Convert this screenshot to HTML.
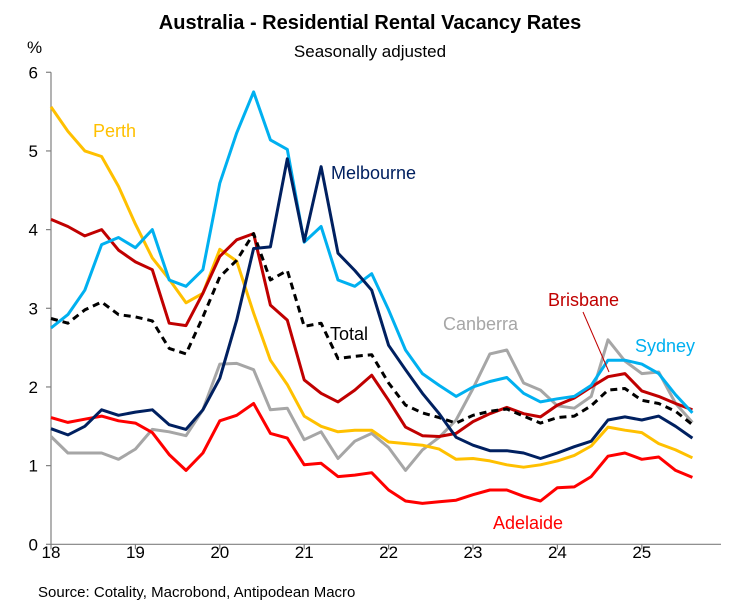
<!DOCTYPE html>
<html><head><meta charset="utf-8"><style>
html,body{margin:0;padding:0;background:#fff;}
svg{display:block;font-family:"Liberation Sans",Arial,sans-serif;}
</style></head><body>
<svg id="chart" width="736" height="611" viewBox="0 0 736 611">
<text x="370" y="29" text-anchor="middle" font-size="20" font-weight="bold" fill="#000">Australia - Residential Rental Vacancy Rates</text>
<text x="370" y="57" text-anchor="middle" font-size="17" fill="#000">Seasonally adjusted</text>
<text x="27" y="53" font-size="17" fill="#000">%</text>
<text x="38" y="597" font-size="15" fill="#000">Source: Cotality, Macrobond, Antipodean Macro</text>
<g id="axes"></g>
<g id="series"></g>
<g id="labels"></g>
</svg>
<script>
const startYear = 2018;
const stepYears = 0.2;
const xTickLabels = ["18","19","20","21","22","23","24","25"];
const yTicks = [0,1,2,3,4,5,6];
const sydney = [2.75,2.92,3.23,3.81,3.90,3.77,4.00,3.36,3.28,3.49,4.59,5.23,5.75,5.14,5.02,3.84,4.04,3.36,3.28,3.44,2.98,2.47,2.17,2.02,1.88,2.00,2.07,2.12,1.92,1.81,1.85,1.88,2.02,2.34,2.34,2.29,2.17,1.90,1.67];
const melbourne = [1.47,1.39,1.50,1.71,1.64,1.68,1.71,1.52,1.46,1.71,2.11,2.85,3.76,3.78,4.9,3.85,4.8,3.70,3.48,3.23,2.53,2.22,1.92,1.66,1.36,1.26,1.19,1.19,1.16,1.09,1.16,1.24,1.31,1.58,1.62,1.58,1.63,1.50,1.35];
const perth = [5.56,5.25,5.00,4.93,4.55,4.07,3.64,3.37,3.07,3.19,3.75,3.60,2.94,2.34,2.03,1.63,1.50,1.43,1.45,1.45,1.30,1.28,1.26,1.21,1.08,1.09,1.06,1.01,0.98,1.01,1.06,1.13,1.25,1.49,1.45,1.42,1.28,1.20,1.10];
const brisbane = [4.13,4.04,3.92,4.00,3.74,3.59,3.49,2.81,2.78,3.19,3.66,3.87,3.95,3.04,2.85,2.09,1.92,1.81,1.96,2.15,1.83,1.49,1.38,1.37,1.41,1.56,1.66,1.74,1.66,1.62,1.77,1.86,2.00,2.13,2.17,1.95,1.88,1.79,1.71];
const adelaide = [1.61,1.55,1.59,1.63,1.57,1.54,1.42,1.14,0.94,1.16,1.57,1.64,1.79,1.41,1.35,1.01,1.03,0.86,0.88,0.91,0.69,0.55,0.52,0.54,0.56,0.63,0.69,0.69,0.61,0.55,0.72,0.73,0.86,1.12,1.16,1.08,1.11,0.94,0.85];
const canberra = [1.37,1.16,1.16,1.16,1.08,1.21,1.46,1.43,1.38,1.71,2.29,2.3,2.22,1.71,1.73,1.33,1.43,1.09,1.31,1.41,1.23,0.94,1.20,1.36,1.58,1.98,2.42,2.47,2.05,1.96,1.76,1.73,1.88,2.60,2.33,2.17,2.19,1.79,1.55];
const total = [2.87,2.81,2.98,3.08,2.92,2.89,2.84,2.49,2.42,2.89,3.40,3.61,3.95,3.36,3.48,2.77,2.81,2.36,2.39,2.41,2.05,1.77,1.67,1.61,1.54,1.64,1.69,1.72,1.63,1.54,1.61,1.63,1.76,1.96,1.98,1.83,1.79,1.69,1.52];

const X0 = 51, PX_PER_YEAR = 84.4, Y0 = 544.3, PX_PER_UNIT = 78.67;
function xScale(year){ return X0 + (year - startYear) * PX_PER_YEAR; }
function yScale(v){ return Y0 - v * PX_PER_UNIT; }
const NS = "http://www.w3.org/2000/svg";
function mk(tag, attrs, parent){ const e=document.createElementNS(NS,tag); for(const k in attrs) e.setAttribute(k,attrs[k]); parent.appendChild(e); return e; }

const axes = document.getElementById('axes');
const yAxis = mk('line',{x1:X0,y1:yScale(6),x2:X0,y2:Y0,stroke:'#808080','stroke-width':1.2},axes);


const xAxis = mk('line',{x1:X0,y1:Y0,x2:721,y2:Y0,stroke:'#808080','stroke-width':1.2},axes);


yTicks.forEach(v=>{
  const t = mk('line',{x1:X0-5,y1:yScale(v),x2:X0,y2:yScale(v),stroke:'#808080','stroke-width':1.2},axes);
  
  
  const l = mk('text',{x:38,y:yScale(v)+6,'text-anchor':'end','font-size':17,fill:'#000'},axes);
  l.textContent = String(v);
  
  
});
xTickLabels.forEach((lab,i)=>{
  const x = xScale(startYear+i);
  const t = mk('line',{x1:x,y1:Y0,x2:x,y2:Y0+5,stroke:'#808080','stroke-width':1.2},axes);
  
  
  const l = mk('text',{x:x,y:558,'text-anchor':'middle','font-size':17,fill:'#000'},axes);
  l.textContent = lab;
  
  
});

const seriesG = document.getElementById('series');
function drawLine(vals, color, name, dash){
  const d = vals.map((v,i)=>(i?'L':'M')+xScale(startYear+i*stepYears).toFixed(1)+','+yScale(v).toFixed(1)).join('');
  const p = mk('path',{d:d,fill:'none',stroke:color,'stroke-width':3,'stroke-linejoin':'round'},seriesG);
  if(dash) p.setAttribute('stroke-dasharray', dash);
  
  
}
drawLine(canberra,'#A6A6A6','canberra-line');
drawLine(adelaide,'#FF0000','adelaide-line');
drawLine(perth,'#FFC000','perth-line');
drawLine(brisbane,'#C00000','brisbane-line');
drawLine(total,'#000000','total-line','7,5');
drawLine(sydney,'#00B0F0','sydney-line');
drawLine(melbourne,'#002060','melbourne-line');

const labelsG = document.getElementById('labels');
function label(txt,x,y,color,name){
  const t = mk('text',{x:x,y:y,'font-size':18,fill:color},labelsG);
  t.textContent = txt;
  
  
}
label('Perth',93,137,'#FFC000','perth-label');
label('Melbourne',331,179,'#002060','melbourne-label');
label('Total',330,340,'#000000','total-label');
label('Canberra',443,330,'#A6A6A6','canberra-label');
label('Brisbane',548,306,'#C00000','brisbane-label');
label('Sydney',635,352,'#00B0F0','sydney-label');
label('Adelaide',493,529,'#FF0000','adelaide-label');
const ptr = mk('line',{x1:583,y1:312,x2:609,y2:372,stroke:'#C00000','stroke-width':1},labelsG);


</script>
</body></html>
